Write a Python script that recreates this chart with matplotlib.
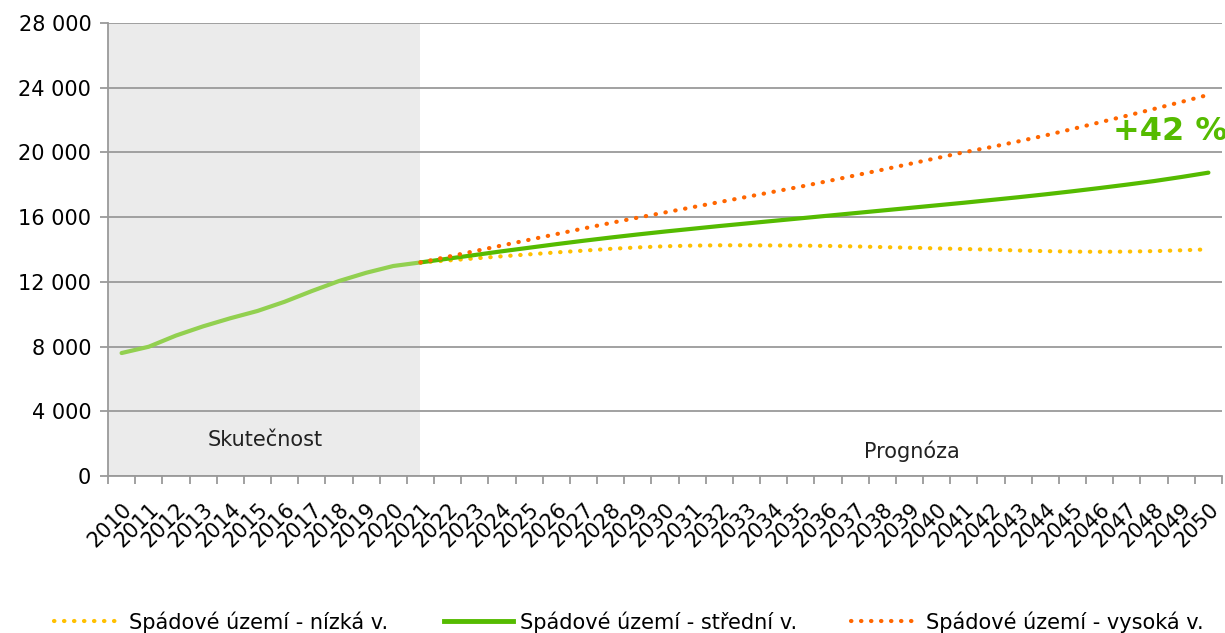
import numpy as np
import matplotlib
matplotlib.use("Agg")
import matplotlib.pyplot as plt
from matplotlib.lines import Line2D
from matplotlib.ticker import FuncFormatter

plt.rcParams['font.family'] = ['DejaVu Sans']

years = list(range(2010, 2051))

# actual values 2010-2021
actual_years = list(range(2010, 2022))
actual = [7600, 7990, 8680, 9250, 9750, 10200, 10770, 11430, 12050, 12560, 12980, 13200]

# forecast 2021-2050
fc_years = list(range(2021, 2051))
low = [13200, 13320, 13450, 13580, 13700, 13820, 13930, 14040, 14130, 14200,
       14240, 14260, 14260, 14250, 14240, 14220, 14190, 14150, 14110, 14070,
       14030, 13990, 13940, 13900, 13870, 13860, 13870, 13900, 13950, 14010]
mid = [13200, 13430, 13660, 13890, 14110, 14330, 14540, 14740, 14930, 15110,
       15280, 15450, 15610, 15770, 15930, 16090, 16250, 16410, 16570, 16730,
       16890, 17060, 17230, 17410, 17600, 17800, 18010, 18230, 18480, 18750]
high = [13200, 13550, 13900, 14250, 14600, 14950, 15300, 15640, 15970, 16290,
        16610, 16930, 17250, 17570, 17890, 18230, 18580, 18930, 19290, 19650,
        20010, 20330, 20680, 21050, 21450, 21860, 22270, 22690, 23120, 23560]

series_labels = ["Spádové území - nízká v.", "Spádové území - střední v.", "Spádové území - vysoká v."]

c_low = "#FFC000"
c_mid = "#55BB00"
c_high = "#FF6600"
c_act = "#92D050"
grid_c = "#9A9A9A"
fs = 15

fig = plt.figure(figsize=(12.25, 6.33), dpi=100)
ax = fig.add_axes([108 / 1225, 1 - 476 / 633, (1222 - 108) / 1225, (476 - 23) / 633])

x_act = [years.index(y) for y in actual_years]
x_fc = [years.index(y) for y in fc_years]

# shaded "actual" area
ax.axvspan(-0.5, years.index(2021), color="#EBEBEB", zorder=0, lw=0)

dots = (0, (0.1, 2.3))
ax.plot(x_act, actual, color=c_act, lw=3, solid_capstyle="round", zorder=3)
ax.plot(x_fc, low, color=c_low, lw=3, ls=dots, dash_capstyle="round", zorder=4)
ax.plot(x_fc, high, color=c_high, lw=3, ls=dots, dash_capstyle="round", zorder=5)
ax.plot(x_fc, mid, color=c_mid, lw=3, solid_capstyle="round", zorder=4)

ax.set_xlim(-0.5, len(years) - 0.5)
ax.set_ylim(0, 28000)
ax.set_yticks(np.arange(0, 28001, 4000))
ax.yaxis.set_major_formatter(FuncFormatter(lambda v, p: f"{int(v):,}".replace(",", " ")))
ax.grid(axis="y", color=grid_c, lw=1.3, zorder=1)
ax.set_axisbelow(True)

ax.set_xticks(range(len(years)))
ax.set_xticklabels([str(y) for y in years], rotation=45, ha="right", va="top",
                   rotation_mode="anchor", fontsize=fs)
ax.set_xticks(np.arange(-0.5, len(years), 1), minor=True)
ax.tick_params(axis="x", which="major", length=0, pad=17)
ax.tick_params(axis="x", which="minor", length=6, color=grid_c, width=1.3)
ax.tick_params(axis="y", length=6, color=grid_c, width=1.3, labelsize=fs, pad=6)

for s in ["top", "right"]:
    ax.spines[s].set_visible(False)
for s in ["left", "bottom"]:
    ax.spines[s].set_color(grid_c)
    ax.spines[s].set_linewidth(1.3)

ax.text(5.3, 2200, "Skutečnost", ha="center", va="center", fontsize=fs, color="#222222")
ax.text(29.1, 1500, "Prognóza", ha="center", va="center", fontsize=fs, color="#222222")
fig.text(1113 / 1225, 1 - 132 / 633, "+42 %", ha="left", va="center", fontsize=23,
         fontweight="bold", color=c_mid)

# legend, three entries spread along the bottom
handles = [
    Line2D([], [], color=c_low, lw=3, ls=dots, dash_capstyle="round"),
    Line2D([], [], color=c_mid, lw=3.5),
    Line2D([], [], color=c_high, lw=3, ls=dots, dash_capstyle="round"),
]
leg_x = [46 / 1225, 436 / 1225, 843 / 1225]
hlen = [3.0, 3.3, 3.0]
pads = [0.6, 0.35, 0.6]
for h, lab, lx, hl, pd_ in zip(handles, series_labels, leg_x, hlen, pads):
    fig.legend(handles=[h], labels=[lab], loc="center left", bbox_to_anchor=(lx, 1 - 622 / 633),
               frameon=False, fontsize=fs, handlelength=hl, handletextpad=pd_, borderaxespad=0)

fig.savefig("out.png", dpi=100)
